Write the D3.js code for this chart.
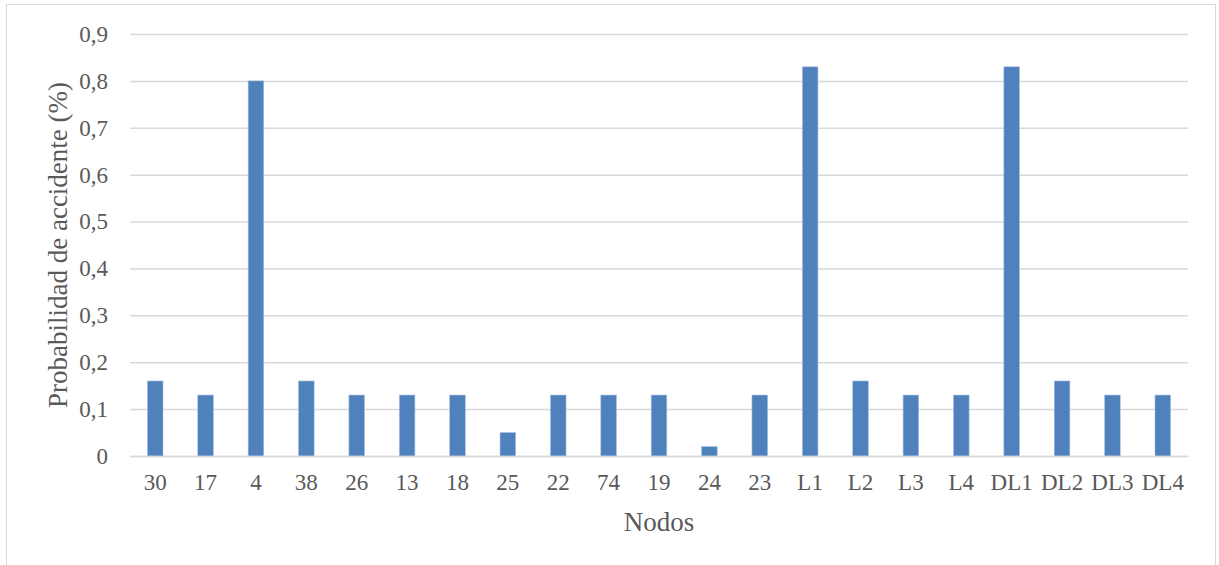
<!DOCTYPE html>
<html>
<head>
<meta charset="utf-8">
<script src="https://cdn.jsdelivr.net/npm/d3@7"></script>
<style>
  html, body { margin: 0; padding: 0; background: #fff; }
  svg text { font-family: "Liberation Serif", "Times New Roman", serif; fill: #595959; }
</style>
</head>
<body>
<svg id="chart" width="1219" height="565"></svg>
<script>
// Node labels and their accident probability
const nodos = ["30","17","4","38","26","13","18","25","22","74","19","24","23","L1","L2","L3","L4","DL1","DL2","DL3","DL4"];
const probabilidad = [0.16,0.13,0.8,0.16,0.13,0.13,0.13,0.05,0.13,0.13,0.13,0.02,0.13,0.83,0.16,0.13,0.13,0.83,0.16,0.13,0.13];
const yTicks = [0,0.1,0.2,0.3,0.4,0.5,0.6,0.7,0.8,0.9];

const svg = d3.select("#chart");
const W = 1219, H = 565;
const margin = {left: 130, right: 31, top: 34, bottom: 109};

// outer chart frame
svg.append("rect")
  .attr("x", 6.5).attr("y", 4.5)
  .attr("width", 1209).attr("height", 570)
  .attr("fill", "#fff").attr("stroke", "#d9d9d9").attr("stroke-width", 1);

const x = d3.scaleBand()
  .domain(nodos)
  .range([margin.left, W - margin.right])
  .paddingInner(0.69).paddingOuter(0.345);

const y = d3.scaleLinear()
  .domain([0, 0.9])
  .range([H - margin.bottom, margin.top]);

const fmt = d => d === 0 ? "0" : d3.format(".1f")(d).replace(".", ",");

// horizontal gridlines
const yAxis = d3.axisLeft(y).tickValues(yTicks).tickFormat(fmt)
  .tickSize(-(W - margin.right - margin.left)).tickPadding(22);
const gy = svg.append("g").attr("transform", `translate(${margin.left},0)`).call(yAxis);
gy.select(".domain").remove();
gy.selectAll(".tick line").attr("stroke", "#d9d9d9").attr("stroke-width", 1.5);
gy.selectAll(".tick text").attr("font-size", 23).attr("fill", "#595959");

// bars
svg.append("g").selectAll("rect")
  .data(nodos)
  .join("rect")
  .attr("x", d => x(d))
  .attr("width", x.bandwidth())
  .attr("y", (d, i) => y(probabilidad[i]))
  .attr("height", (d, i) => y(0) - y(probabilidad[i]))
  .attr("fill", "#4f81bd")
  .attr("stroke", "#a9c0e0").attr("stroke-width", 0.6);

// category axis
const xAxis = d3.axisBottom(x).tickSize(0).tickPadding(18);
const gx = svg.append("g").attr("transform", `translate(0,${y(0)})`).call(xAxis);
gx.select(".domain").attr("stroke", "#d9d9d9").attr("stroke-width", 1.5);
gx.selectAll(".tick text").attr("font-size", 23).attr("fill", "#595959");

// axis titles
svg.append("text")
  .attr("x", (margin.left + W - margin.right) / 2).attr("y", 531)
  .attr("text-anchor", "middle").attr("font-size", 27)
  .text("Nodos");

svg.append("text")
  .attr("transform", `translate(67,${(y(0) + y(0.9)) / 2}) rotate(-90)`)
  .attr("text-anchor", "middle").attr("font-size", 27)
  .text("Probabilidad de accidente (%)");
</script>
</body>
</html>
